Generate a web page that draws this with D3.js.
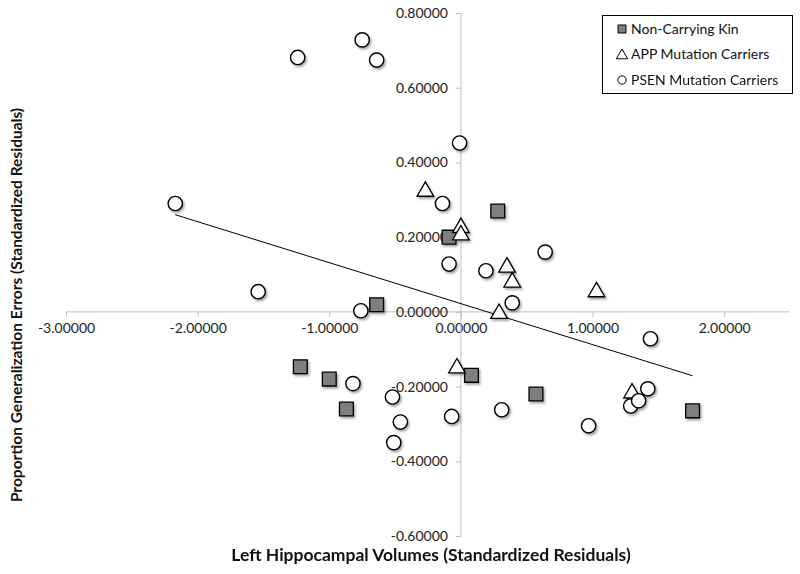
<!DOCTYPE html>
<html><head><meta charset="utf-8">
<script src="https://cdn.jsdelivr.net/npm/d3@7"></script>
<style>
html,body{margin:0;padding:0;background:#fff;}
text{font-family:Lato,"Open Sans",sans-serif;}
</style></head>
<body><svg id="c" width="800" height="574"></svg>
<script>
// ---- data ----
const kinX = [-0.64, -0.09, 0.28, -1.22, -1.00, -0.87, 0.08, 0.57, 1.76];
const kinY = [0.019, 0.200, 0.270, -0.147, -0.180, -0.260, -0.170, -0.220, -0.265];
const appX = [-0.27, 0.00, 0.00, 0.35, 0.39, 1.03, 0.29, -0.03, 1.30];
const appY = [0.325, 0.228, 0.208, 0.122, 0.082, 0.056, -0.002, -0.148, -0.215];
const psenX = [-1.24, -0.75, -0.64, -0.01, -0.14, -0.09, 0.19, 0.64, 0.39, -2.17, -1.54, -0.76, 1.44, -0.82, -0.52, -0.46, -0.51, -0.07, 0.31, 0.97, 1.29, 1.35, 1.42];
const psenY = [0.681, 0.728, 0.674, 0.452, 0.290, 0.128, 0.110, 0.160, 0.024, 0.290, 0.054, 0.003, -0.072, -0.192, -0.228, -0.295, -0.350, -0.280, -0.262, -0.305, -0.252, -0.238, -0.206];
const trendSlope = -0.1097, trendIntercept = 0.022;
const xTicks = [-3, -2, -1, 0, 1, 2];
const yTicks = [-0.6, -0.4, -0.2, 0, 0.2, 0.4, 0.6, 0.8];
const seriesNames = ["Non-Carrying Kin", "APP Mutation Carriers", "PSEN Mutation Carriers"];
const xTitle = "Left Hippocampal Volumes (Standardized Residuals)";
const yTitle = "Proportion Generalization Errors (Standardized Residuals)";

const svg = d3.select("#c");
const x = d3.scaleLinear().domain([-3, 2.5]).range([66, 790]);
const y = d3.scaleLinear().domain([-0.6, 0.8]).range([536, 13]);
const fmt = d => d3.format(".5f")(d).replace("\u2212", "-");

const defs = svg.append("defs");
const f = defs.append("filter").attr("id","sh").attr("x","-50%").attr("y","-50%").attr("width","200%").attr("height","200%");
f.append("feDropShadow").attr("dx",1.5).attr("dy",2).attr("stdDeviation",1.3).attr("flood-color","#000").attr("flood-opacity",0.35);

// axes
const xAxis = d3.axisBottom(x).tickValues(xTicks).tickSize(5).tickFormat(fmt);
const gx = svg.append("g").attr("transform", `translate(0,${y(0)})`).call(xAxis);
gx.select(".domain").attr("stroke","#bfbfbf").attr("d", `M${x(-3)},0H${x(2.5)}`);
gx.selectAll(".tick line").attr("stroke","#bfbfbf");
gx.selectAll(".tick text").attr("font-size",14).attr("fill","#222").attr("dy","0.85em").attr("y",9);

const yAxis = d3.axisLeft(y).tickValues(yTicks).tickSize(5).tickFormat(fmt);
const gy = svg.append("g").attr("transform", `translate(${x(0)},0)`).call(yAxis);
gy.select(".domain").attr("stroke","#bfbfbf").attr("d", `M0,${y(0.8)}V${y(-0.6)}`);
gy.selectAll(".tick line").attr("stroke","#bfbfbf");
gy.selectAll(".tick text").attr("font-size",14).attr("fill","#222").attr("x",-13);

// trend line
const tx = d3.extent(kinX.concat(appX, psenX));
svg.append("line")
  .attr("x1", x(tx[0])).attr("y1", y(trendIntercept + trendSlope*tx[0]))
  .attr("x2", x(tx[1])).attr("y2", y(trendIntercept + trendSlope*tx[1]))
  .attr("stroke","#000").attr("stroke-width",1);

const pts = (xs, ys) => xs.map((v,i)=>({x:v,y:ys[i]}));
const g = svg.append("g").attr("filter","url(#sh)");
const sq = d3.symbol().type(d3.symbolSquare).size(190);
const tri = d3.symbol().type(d3.symbolTriangle).size(120);
const cir = d3.symbol().type(d3.symbolCircle).size(160);

g.selectAll(".k").data(pts(kinX,kinY)).join("path")
  .attr("d", sq).attr("transform", d=>`translate(${x(d.x)},${y(d.y)})`)
  .attr("fill","#7f7f7f").attr("stroke","#000").attr("stroke-width",1.3);
g.selectAll(".a").data(pts(appX,appY)).join("path")
  .attr("d", tri).attr("transform", d=>`translate(${x(d.x)},${y(d.y)+1})`)
  .attr("fill","#fff").attr("stroke","#000").attr("stroke-width",1.3);
g.selectAll(".p").data(pts(psenX,psenY)).join("path")
  .attr("d", cir).attr("transform", d=>`translate(${x(d.x)},${y(d.y)})`)
  .attr("fill","#fff").attr("stroke","#000").attr("stroke-width",1.4);

// legend
const lg = svg.append("g");
lg.append("rect").attr("x",602.5).attr("y",15.5).attr("width",190).attr("height",78)
  .attr("fill","#fff").attr("stroke","#000").attr("stroke-width",1);
const lsyms = [d3.symbol().type(d3.symbolSquare).size(64), d3.symbol().type(d3.symbolTriangle).size(55), d3.symbol().type(d3.symbolCircle).size(55)];
const lfill = ["#7f7f7f","#fff","#fff"];
seriesNames.forEach((n,i)=>{
  const cy = 29 + i*25.5;
  lg.append("path").attr("d", lsyms[i]).attr("transform",`translate(622,${cy + (i==1?1:0)})`)
    .attr("fill", lfill[i]).attr("stroke","#000").attr("stroke-width",1);
  lg.append("text").attr("x",631).attr("y",cy).attr("dy","0.35em").attr("font-size",14).attr("fill","#111").text(n);
});

// titles
svg.append("text").attr("x",431).attr("y",555).attr("dy","0.35em").attr("text-anchor","middle")
  .attr("font-size",17.5).attr("font-weight","bold").attr("fill","#111").text(xTitle);
svg.append("text").attr("transform","translate(17,305) rotate(-90)").attr("dy","0.35em").attr("text-anchor","middle")
  .attr("font-size",15.5).attr("font-weight","bold").attr("fill","#111").text(yTitle);
</script></body></html>
